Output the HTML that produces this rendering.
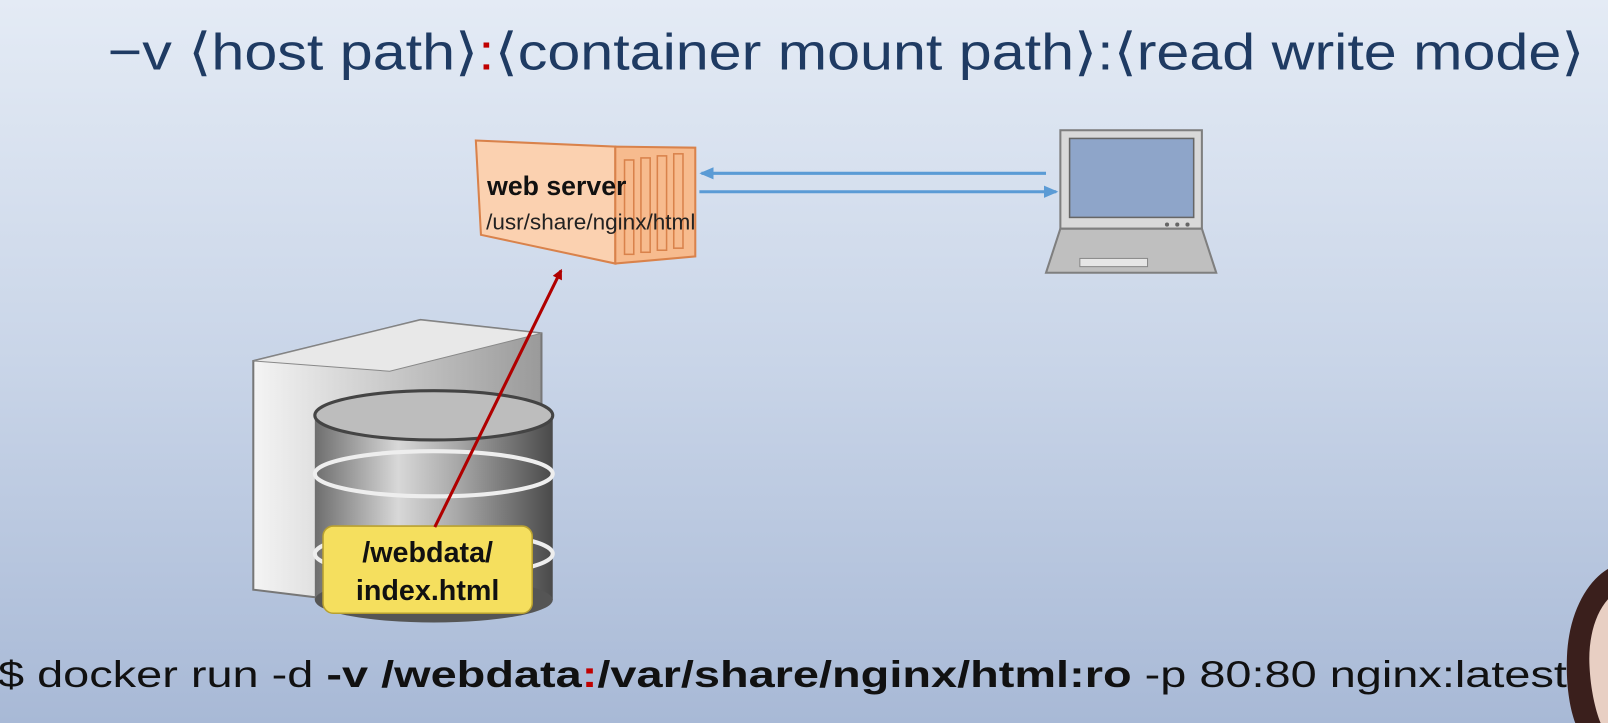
<!DOCTYPE html>
<html><head><meta charset="utf-8"><style>
html,body{margin:0;padding:0;width:1608px;height:723px;overflow:hidden}
</style></head><body>
<svg width="1608" height="723" viewBox="0 0 1608 723" xmlns="http://www.w3.org/2000/svg">
<defs>
<linearGradient id="bg" x1="0" y1="0" x2="0" y2="1">
<stop offset="0" stop-color="#e4ebf5"/><stop offset="0.5" stop-color="#c9d5e8"/><stop offset="1" stop-color="#a8b9d6"/></linearGradient>
<linearGradient id="cyl" x1="0" y1="0" x2="1" y2="0">
<stop offset="0" stop-color="#6e6e6e"/><stop offset="0.35" stop-color="#d8d8d8"/><stop offset="0.6" stop-color="#a8a8a8"/><stop offset="1" stop-color="#4a4a4a"/></linearGradient>
<linearGradient id="srv" x1="0" y1="0" x2="1" y2="0">
<stop offset="0" stop-color="#f4f4f4"/><stop offset="1" stop-color="#9a9a9a"/></linearGradient>
<marker id="ar" markerWidth="10" markerHeight="10" refX="8" refY="5" orient="auto" markerUnits="userSpaceOnUse"><path d="M0,0 L10,5 L0,10 z" fill="#b00000"/></marker>
<marker id="ab" markerWidth="14" markerHeight="12" refX="12" refY="6" orient="auto" markerUnits="userSpaceOnUse"><path d="M0,0 L14,6 L0,12 z" fill="#5b9bd5"/></marker>
</defs>
<rect width="1608" height="723" fill="url(#bg)"/>
<g transform="scale(1.0255)">
<text x="105" y="68" font-family="Liberation Sans, sans-serif" font-size="50" fill="#1f3b63" textLength="1440" lengthAdjust="spacingAndGlyphs">−v ⟨host path⟩<tspan fill="#c00000">:</tspan>⟨container mount path⟩:⟨read write mode⟩</text>

<!-- container -->
<path d="M464,137 L600,143 L600,257 L469,229 Z" fill="#fbd1b0" stroke="#d9824b" stroke-width="2"/>
<path d="M600,143 L678,144 L678,250 L600,257 Z" fill="#f7bb8e" stroke="#d9824b" stroke-width="2"/>
<g stroke="#d9824b" stroke-width="1.5" fill="none">
<rect x="609" y="156" width="9" height="92"/><rect x="625" y="154" width="9" height="92"/><rect x="641" y="152" width="9" height="92"/><rect x="657" y="150" width="9" height="92"/></g>
<text x="475" y="190" font-family="Liberation Sans, sans-serif" font-size="26" font-weight="bold" fill="#111">web server</text>
<text x="474" y="224" font-family="Liberation Sans, sans-serif" font-size="22" fill="#222">/usr/share/nginx/html</text>

<!-- blue arrows -->
<line x1="1020" y1="169" x2="684" y2="169" stroke="#5b9bd5" stroke-width="3" marker-end="url(#ab)"/>
<line x1="682" y1="187" x2="1030" y2="187" stroke="#5b9bd5" stroke-width="3" marker-end="url(#ab)"/>

<!-- laptop -->
<rect x="1034" y="127" width="138" height="96" fill="#d9d9d9" stroke="#7f7f7f" stroke-width="2"/>
<rect x="1043" y="135" width="121" height="77" fill="#8ea5c9" stroke="#666" stroke-width="1.5"/>
<path d="M1034,223 L1172,223 L1186,266 L1020,266 Z" fill="#bfbfbf" stroke="#7f7f7f" stroke-width="2"/>
<rect x="1053" y="252" width="66" height="8" fill="#e6e6e6" stroke="#888"/>
<circle cx="1138" cy="219" r="2" fill="#666"/><circle cx="1148" cy="219" r="2" fill="#666"/><circle cx="1158" cy="219" r="2" fill="#666"/>

<!-- server -->
<path d="M247,352 L410,312 L528,325 L528,560 L410,595 L247,575 Z" fill="url(#srv)" stroke="#777" stroke-width="2"/>
<path d="M247,352 L410,312 L528,325 L380,362 Z" fill="#e8e8e8" stroke="#888"/>

<!-- db cylinder -->
<rect x="307" y="405" width="232" height="180" fill="url(#cyl)"/>
<ellipse cx="423" cy="585" rx="116" ry="22" fill="#555"/>
<ellipse cx="423" cy="540" rx="116" ry="22" fill="none" stroke="#eee" stroke-width="4"/>
<ellipse cx="423" cy="462" rx="116" ry="22" fill="none" stroke="#eee" stroke-width="4"/>
<ellipse cx="423" cy="405" rx="116" ry="24" fill="#bdbdbd" stroke="#444" stroke-width="3"/>

<!-- label -->
<rect x="315" y="513" width="204" height="85" rx="10" fill="#f5df5e" stroke="#b8a030" stroke-width="1.5"/>
<text x="417" y="548" text-anchor="middle" font-family="Liberation Sans, sans-serif" font-size="28" font-weight="bold" fill="#111">/webdata/</text>
<text x="417" y="585" text-anchor="middle" font-family="Liberation Sans, sans-serif" font-size="28" font-weight="bold" fill="#111">index.html</text>

<line x1="424" y1="514" x2="547" y2="264" stroke="#b00000" stroke-width="3" marker-end="url(#ar)"/>

<!-- person -->
<path d="M1580,550 C1555,555 1530,590 1528,640 C1526,690 1540,723 1550,723 L1580,723 Z" fill="#3a1f1c"/>
<path d="M1580,575 C1560,585 1548,615 1550,650 C1552,690 1565,723 1575,723 L1580,723 Z" fill="#e8cfc3"/>

<text x="-2" y="670" font-family="Liberation Sans, sans-serif" font-size="36" fill="#111" textLength="1530" lengthAdjust="spacingAndGlyphs">$ docker run -d  <tspan font-weight="bold">-v /webdata</tspan><tspan font-weight="bold" fill="#c00000">:</tspan><tspan font-weight="bold">/var/share/nginx/html:ro</tspan>  -p 80:80 nginx:latest</text>
</g>
</svg>
</body></html>
